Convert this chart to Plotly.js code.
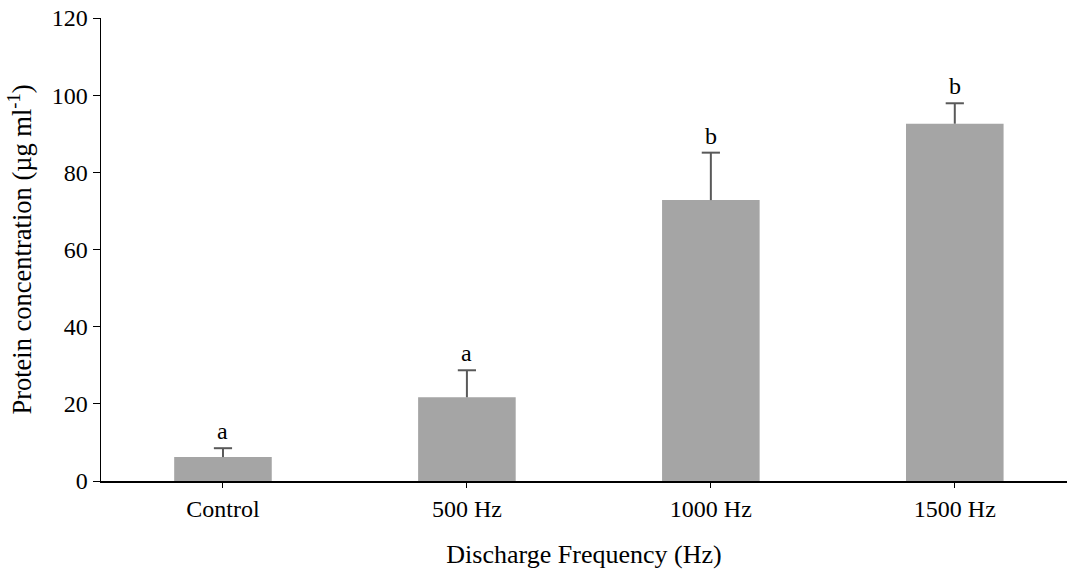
<!DOCTYPE html>
<html>
<head>
<meta charset="utf-8">
<script src="https://cdn.plot.ly/plotly-3.0.1.min.js"></script>
<style>html,body{margin:0;padding:0;background:#fff;}#chart{width:1067px;height:576px;}</style>
</head>
<body>
<div id="chart"></div>
<script>
const categories = ["Control", "500 Hz", "1000 Hz", "1500 Hz"];
const values = [6.2, 21.7, 72.8, 92.6];
const errors = [2.3, 7.0, 12.3, 5.3];
const letters = ["a", "a", "b", "b"];
const yTicks = [0, 20, 40, 60, 80, 100, 120];

const font = "'Liberation Serif', 'Times New Roman', serif";

const bars = {
  type: "bar",
  x: categories,
  y: values,
  width: 0.4,
  marker: {color: "#a5a5a5"},
  hoverinfo: "skip"
};

const tops = values.map((v, i) => v + errors[i]);
const errTrace = {
  type: "scatter",
  mode: "markers",
  x: categories,
  y: tops,
  marker: {symbol: "line-ew-open", size: 13, line: {color: "#595959", width: 2}, color: "#595959"},
  error_y: {type: "data", symmetric: false, array: errors.map(() => 0), arrayminus: errors, visible: true, color: "#595959", thickness: 2, width: 0},
  hoverinfo: "skip"
};

const annotations = categories.map((c, i) => ({
  x: c, y: tops[i], text: letters[i], showarrow: false,
  xanchor: "center", yanchor: "bottom", yshift: 2,
  font: {family: font, size: 24, color: "#000"}
}));

const layout = {
  width: 1067, height: 576,
  margin: {l: 101, r: 0, t: 18, b: 95},
  paper_bgcolor: "#fff", plot_bgcolor: "#fff",
  showlegend: false,
  font: {family: font, color: "#000"},
  xaxis: {
    type: "category", range: [-0.5, 3.46],
    showline: true, linecolor: "#000", linewidth: 2,
    ticks: "outside", ticklen: 5, tickcolor: "#000", tickwidth: 1,
    tickfont: {family: font, size: 24, color: "#000"},
    showgrid: false, zeroline: false,
    title: {text: "Discharge Frequency (Hz)", font: {family: font, size: 26, color: "#000"}, standoff: 24}
  },
  yaxis: {
    range: [0, 120], tickvals: yTicks, ticktext: yTicks.map(String),
    showline: true, linecolor: "#000", linewidth: 1.5,
    ticks: "outside", ticklen: 7, tickcolor: "#000", tickwidth: 1,
    tickfont: {family: font, size: 24, color: "#000"},
    showgrid: false, zeroline: false,
    title: {text: "Protein concentration (µg ml<sup>-1</sup>)", font: {family: font, size: 26.5, color: "#000"}, standoff: 12}
  },
  annotations: annotations
};

Plotly.newPlot("chart", [bars, errTrace], layout, {displayModeBar: false, staticPlot: true});
</script>
</body>
</html>
